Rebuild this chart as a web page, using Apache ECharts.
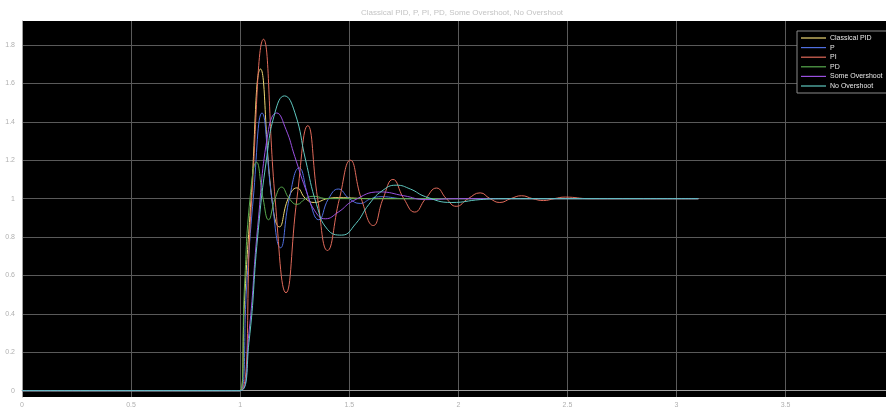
<!DOCTYPE html>
<html>
<head>
<meta charset="utf-8">
<script src="https://cdn.jsdelivr.net/npm/echarts@6/dist/echarts.min.js"></script>
<style>
html,body{margin:0;padding:0;background:#fff;}
#chart{width:886px;height:409px;}
</style>
</head>
<body>
<div id="chart"></div>
<script>
const titleText = 'Classical PID, P, PI, PD, Some Overshoot, No Overshoot';
const seriesNames = ['Classical PID', 'P', 'PI', 'PD', 'Some Overshoot', 'No Overshoot'];
const xTicks = [0, 0.5, 1, 1.5, 2, 2.5, 3, 3.5];
const yTicks = [0, 0.2, 0.4, 0.6, 0.8, 1, 1.2, 1.4, 1.6, 1.8];

const classicalPID = [[0,0],[1,0],[1.02,0.47],[1.05,1.0],[1.093,1.675],[1.145,1.0],[1.18,0.853],[1.22,1.0],[1.26,1.056],[1.30,1.0],[1.34,0.98],[1.40,1.0],[1.45,1.005],[1.6,1.0],[3.1,1.0]];
const pCtrl = [[0,0],[1,0],[1.03,0.55],[1.06,1.0],[1.10,1.446],[1.145,1.0],[1.185,0.744],[1.225,1.0],[1.27,1.16],[1.315,1.0],[1.36,0.89],[1.405,1.0],[1.45,1.05],[1.50,1.0],[1.55,0.975],[1.60,1.0],[1.65,1.01],[1.75,1.0],[3.1,1.0]];
const piCtrl = [[0,0],[1,0],[1.05,0.95],[1.107,1.83],[1.16,1.0],[1.21,0.51],[1.26,1.0],[1.31,1.38],[1.355,1.0],[1.40,0.73],[1.455,1.0],[1.505,1.20],[1.555,1.0],[1.61,0.86],[1.655,1.0],[1.70,1.10],[1.75,1.0],[1.80,0.93],[1.85,1.0],[1.90,1.055],[1.945,1.0],[1.99,0.96],[2.045,1.0],[2.10,1.03],[2.145,1.0],[2.19,0.98],[2.24,1.0],[2.29,1.015],[2.34,1.0],[2.39,0.99],[2.44,1.0],[2.49,1.008],[2.6,1.0],[3.1,1.0]];
const pdCtrl = [[0,0],[1,0],[1.02,0.55],[1.045,1.0],[1.075,1.19],[1.105,1.0],[1.13,0.89],[1.16,1.0],[1.19,1.06],[1.225,1.0],[1.26,0.97],[1.30,1.0],[1.335,1.012],[1.4,1.0],[3.1,1.0]];
const someOvershoot = [[0,0],[1,0],[1.04,0.3],[1.08,0.85],[1.13,1.36],[1.167,1.446],[1.21,1.36],[1.25,1.22],[1.30,1.05],[1.34,0.94],[1.39,0.895],[1.45,0.93],[1.52,0.99],[1.64,1.035],[1.75,1.015],[1.85,0.995],[2.0,1.0],[3.1,1.0]];
const noOvershoot = [[0,0],[1,0],[1.04,0.25],[1.08,0.8],[1.12,1.2],[1.16,1.45],[1.203,1.535],[1.25,1.45],[1.30,1.2],[1.35,0.97],[1.40,0.84],[1.465,0.81],[1.53,0.87],[1.59,0.97],[1.65,1.04],[1.715,1.07],[1.78,1.05],[1.85,1.01],[1.97,0.98],[2.1,0.995],[2.2,1.0],[3.1,1.0]];

const seriesData = [classicalPID, pCtrl, piCtrl, pdCtrl, someOvershoot, noOvershoot];
const colors = ['#efd873', '#4f6fe0', '#e06a5a', '#58aa4e', '#9a50e0', '#5fc8c0'];

const chart = echarts.init(document.getElementById('chart'), null, {renderer: 'canvas'});
chart.setOption({
  animation: false,
  backgroundColor: '#ffffff',
  title: {
    text: titleText, left: 457, top: 4, textAlign: 'center',
    textStyle: {fontSize: 8, fontWeight: 'normal', color: '#c4c4c4', fontFamily: 'Liberation Sans, Arial, sans-serif'}
  },
  legend: {
    orient: 'vertical', left: 797, top: 31,
    backgroundColor: '#000', borderColor: '#8a8a8a', borderWidth: 1,
    padding: [3, 4, 3, 4], itemGap: 1.6, itemWidth: 25, itemHeight: 1.2,
    icon: 'rect',
    textStyle: {color: '#e8e8e8', fontSize: 7, lineHeight: 8, padding: [0,0,0,-1], fontFamily: 'Liberation Sans, Arial, sans-serif'},
    data: seriesNames
  },
  grid: {left: 22, right: 0, top: 21, bottom: 12, show: true, backgroundColor: '#000', borderWidth: 0},
  xAxis: {
    type: 'value', min: 0, max: 3.96,
    axisLine: {show: true, lineStyle: {color: '#a0a0a0', width: 1}},
    axisTick: {show: false, customValues: xTicks},
    axisLabel: {customValues: xTicks, color: '#b0b0b0', fontSize: 7, margin: 5, fontFamily: 'Liberation Sans, Arial, sans-serif'},
    splitLine: {show: true, lineStyle: {color: '#5a5a5a', width: 1}}
  },
  yAxis: {
    type: 'value', min: -0.033, max: 1.925,
    axisLine: {show: true, lineStyle: {color: '#a0a0a0', width: 1}},
    axisTick: {show: false, customValues: yTicks},
    axisLabel: {customValues: yTicks, color: '#b0b0b0', fontSize: 7, margin: 7, fontFamily: 'Liberation Sans, Arial, sans-serif'},
    splitLine: {show: true, lineStyle: {color: '#5a5a5a', width: 1}}
  },
  series: seriesNames.map((name, i) => ({
    name: name, type: 'line', data: seriesData[i], showSymbol: false, symbol: 'none',
    smooth: 0.5, color: colors[i], lineStyle: {width: 1, color: colors[i]}
  }))
});
</script>
</body>
</html>
